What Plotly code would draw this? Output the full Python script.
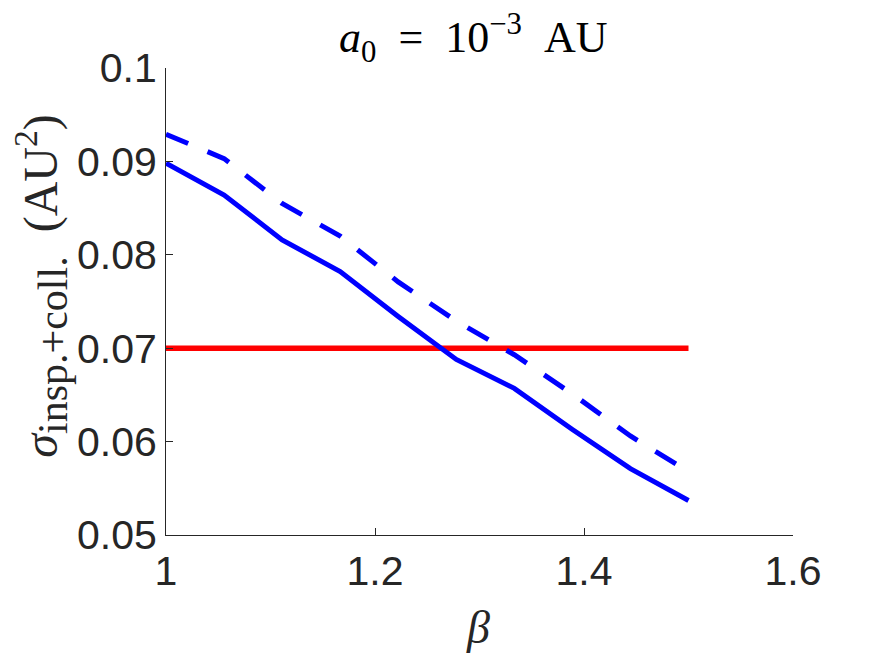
import plotly.graph_objects as go

beta = [1.0, 1.0556, 1.1111, 1.1667, 1.2222, 1.2778, 1.3333, 1.3889, 1.4444, 1.5]
sigma_solid = [0.0898, 0.0864, 0.0816, 0.0782, 0.0734, 0.0688, 0.0657, 0.0613, 0.0571, 0.0537]
sigma_dashed = [0.0929, 0.0903, 0.0855, 0.0820, 0.0771, 0.0729, 0.0693, 0.0651, 0.0606, 0.0568]
ref_x = [1.0, 1.5]
ref_y = [0.07, 0.07]

x_ticks = [1, 1.2, 1.4, 1.6]
x_tick_labels = ["1", "1.2", "1.4", "1.6"]
y_ticks = [0.05, 0.06, 0.07, 0.08, 0.09, 0.1]
y_tick_labels = ["0.05", "0.06", "0.07", "0.08", "0.09", "0.1"]

fig = go.Figure()
fig.add_trace(go.Scatter(x=ref_x, y=ref_y, mode="lines",
                         line=dict(color="#FF0000", width=5.5), showlegend=False))
fig.add_trace(go.Scatter(x=beta, y=sigma_dashed, mode="lines",
                         line=dict(color="#0000FF", width=5, dash="24px,21px"), showlegend=False))
fig.add_trace(go.Scatter(x=beta, y=sigma_solid, mode="lines",
                         line=dict(color="#0000FF", width=5), showlegend=False))

axis_color = "#262626"
tick_font = dict(family="Liberation Sans, Arial, sans-serif", size=41, color=axis_color)
serif = "Liberation Serif, Times New Roman, serif"

fig.update_layout(
    width=875, height=657,
    margin=dict(l=158, r=90, t=60, b=130),
    paper_bgcolor="white", plot_bgcolor="white",
    xaxis=dict(range=[1, 1.6], tickvals=x_ticks, ticktext=x_tick_labels,
               showgrid=False, zeroline=False, showline=True, linecolor=axis_color,
               linewidth=1, ticks="inside", ticklen=7, tickcolor=axis_color,
               tickfont=tick_font, mirror=False),
    yaxis=dict(range=[0.05, 0.1], tickvals=y_ticks, ticktext=y_tick_labels,
               showgrid=False, zeroline=False, showline=True, linecolor=axis_color,
               linewidth=1, ticks="inside", ticklen=7, tickcolor=axis_color,
               tickfont=tick_font, mirror=False),
    annotations=[
        dict(text="<i>a</i><sub>0</sub>&nbsp;&nbsp;=&nbsp;&nbsp;10<sup>−3</sup>&nbsp;&nbsp;AU",
             xref="paper", yref="paper",
             x=0.491, y=1.064, showarrow=False, xanchor="center", yanchor="middle",
             font=dict(family=serif, size=44, color="black")),
        dict(text="<i>σ</i><sub><span style=\"font-size:42px\">insp.+coll.</span></sub>&nbsp;&nbsp;(AU<sup>2</sup>)",
             xref="paper", yref="paper",
             x=-0.2, y=0.533, showarrow=False, textangle=-90, xanchor="center", yanchor="middle",
             font=dict(family=serif, size=48, color=axis_color)),
        dict(text="<i>β</i>", xref="paper", yref="paper",
             x=0.498, y=-0.199, showarrow=False, xanchor="center", yanchor="middle",
             font=dict(family=serif, size=46, color=axis_color)),
    ],
)

fig.write_html("out.html")
